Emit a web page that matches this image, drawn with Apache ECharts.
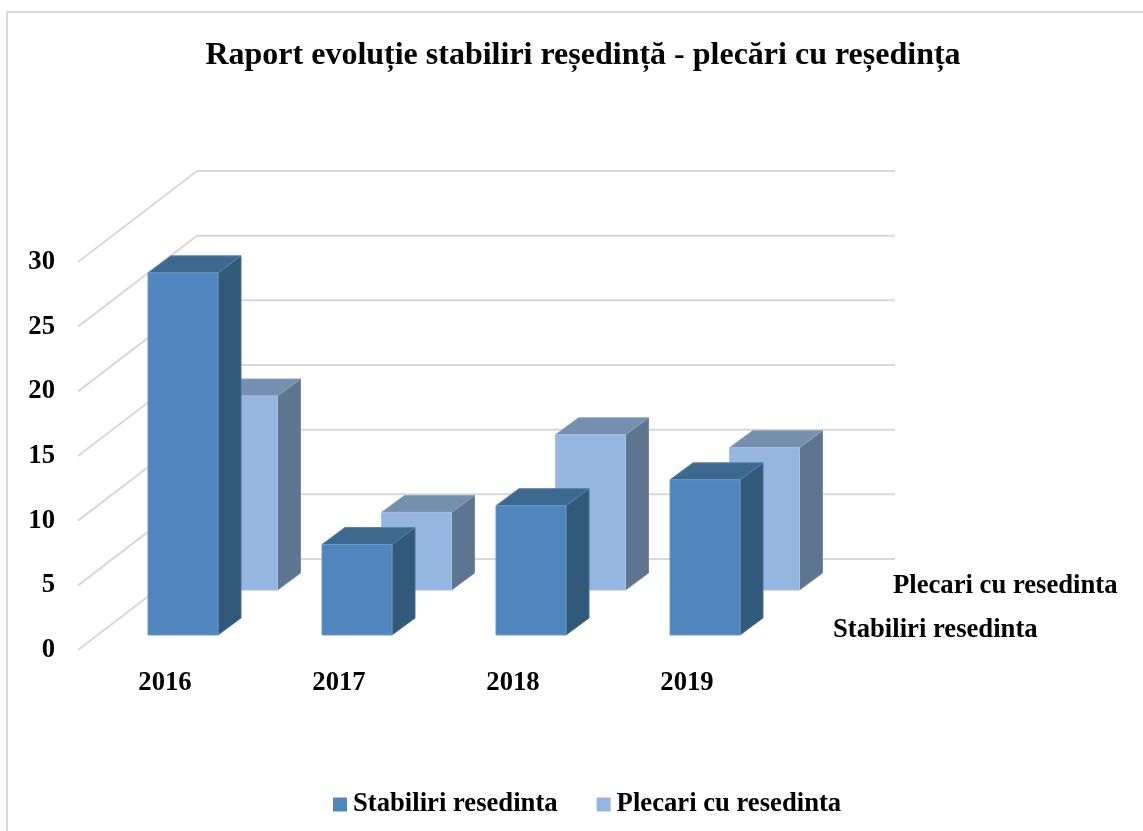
<!DOCTYPE html>
<html><head><meta charset="utf-8">
<style>html,body{margin:0;padding:0;background:#fff}#c{width:1143px;height:831px}</style>
<script src="https://cdn.jsdelivr.net/npm/echarts@6/dist/echarts.min.js"></script>
</head><body><div id="c"></div>
<script>
const titleText = 'Raport evoluție stabiliri reședință - plecări cu reședința';
const categories = ['2016', '2017', '2018', '2019'];
const stabiliri = [28, 7, 10, 12];
const plecari = [15, 6, 12, 11];
const ticks = [0, 5, 10, 15, 20, 25, 30];
const nameStabiliri = 'Stabiliri resedinta';
const namePlecari = 'Plecari cu resedinta';

const FONT = '"Liberation Serif","Times New Roman",serif';
const BOX = {dx: 23, dy: 17, w: 70};
const WALL = {dx: 119, dy: 91, right: 895};

function face(points, fill, stroke) {
  return {type: 'polygon', shape: {points}, style: {fill, stroke, lineWidth: 1}};
}
function boxRenderer(off, c) {
  return function (params, api) {
    const idx = api.value(0), val = api.value(1);
    const top = api.coord([idx, val]), base = api.coord([idx, 0]);
    const x0 = top[0] + off.dx - BOX.w / 2, x1 = x0 + BOX.w;
    const yt = top[1] - off.dy, yb = base[1] - off.dy;
    const d = BOX;
    return {type: 'group', children: [
      face([[x1, yt], [x1 + d.dx, yt - d.dy], [x1 + d.dx, yb - d.dy], [x1, yb]], c.side, c.sideEdge),
      face([[x0, yt], [x0 + d.dx, yt - d.dy], [x1 + d.dx, yt - d.dy], [x1, yt]], c.top, c.topEdge),
      face([[x0, yt], [x1, yt], [x1, yb], [x0, yb]], c.front, c.frontEdge)
    ]};
  };
}
function wallRenderer(params, api) {
  const y = api.coord([0, api.value(0)])[1];
  const x0 = params.coordSys.x;
  return {type: 'polyline',
    shape: {points: [[x0, y], [x0 + WALL.dx, y - WALL.dy], [WALL.right, y - WALL.dy]]},
    style: {fill: null, stroke: '#d9d9d9', lineWidth: 2}};
}

const chart = echarts.init(document.getElementById('c'), null, {renderer: 'canvas'});
chart.setOption({
  animation: false,
  backgroundColor: '#fff',
  title: {text: titleText, left: 578, top: 35, textAlign: 'center',
    textStyle: {fontFamily: FONT, fontWeight: 'bold', fontSize: 32, color: '#000'}},
  legend: {data: [nameStabiliri, namePlecari], left: 328, top: 786, itemWidth: 14, itemHeight: 14,
    itemGap: 39, icon: 'rect', selectedMode: false,
    textStyle: {fontFamily: FONT, fontWeight: 'bold', fontSize: 26.67, color: '#000', padding: [0, 0, 0, 1]}},
  grid: {left: 78, top: 262, width: 696, height: 388, containLabel: false},
  xAxis: {type: 'category', data: categories, axisLine: {show: false}, axisTick: {show: false},
    splitLine: {show: false},
    axisLabel: {margin: 20, fontFamily: FONT, fontWeight: 'bold', fontSize: 26.67, color: '#000'}},
  yAxis: {type: 'value', min: 0, max: 30, interval: 5, axisLine: {show: false}, axisTick: {show: false},
    splitLine: {show: false},
    axisLabel: {margin: 23, fontFamily: FONT, fontWeight: 'bold', fontSize: 26.67, color: '#000'}},
  graphic: [
    {type: 'rect', shape: {x: 7, y: 12, width: 1200, height: 900}, z: -10, silent: true,
      style: {fill: 'none', stroke: '#d9d9d9', lineWidth: 2}},
    {type: 'text', left: 893, top: 573, style: {text: namePlecari, font: 'bold 26.67px ' + FONT, fill: '#000'}},
    {type: 'text', left: 833, top: 617, style: {text: nameStabiliri, font: 'bold 26.67px ' + FONT, fill: '#000'}}
  ],
  series: [
    {type: 'custom', name: 'wall', z: 1, silent: true, encode: {y: 0},
      renderItem: wallRenderer, data: ticks.map(t => [t])},
    {type: 'custom', name: namePlecari, z: 2, silent: true, encode: {x: 0, y: 1},
      itemStyle: {color: '#95b6e0'},
      renderItem: boxRenderer({dx: 77.5, dy: 60},
        {front: '#95b6e0', frontEdge: '#a6c2e6', side: '#5f758f', sideEdge: '#7389a1', top: '#7590ae', topEdge: '#8aa2bc'}),
      data: plecari.map((v, i) => [i, v])},
    {type: 'custom', name: nameStabiliri, z: 3, silent: true, encode: {x: 0, y: 1},
      itemStyle: {color: '#4f86bd'},
      renderItem: boxRenderer({dx: 18, dy: 15},
        {front: '#4f86bd', frontEdge: '#6a9aca', side: '#31597a', sideEdge: '#4a7294', top: '#3d6890', topEdge: '#5a83a8'}),
      data: stabiliri.map((v, i) => [i, v])}
  ]
});
</script></body></html>
